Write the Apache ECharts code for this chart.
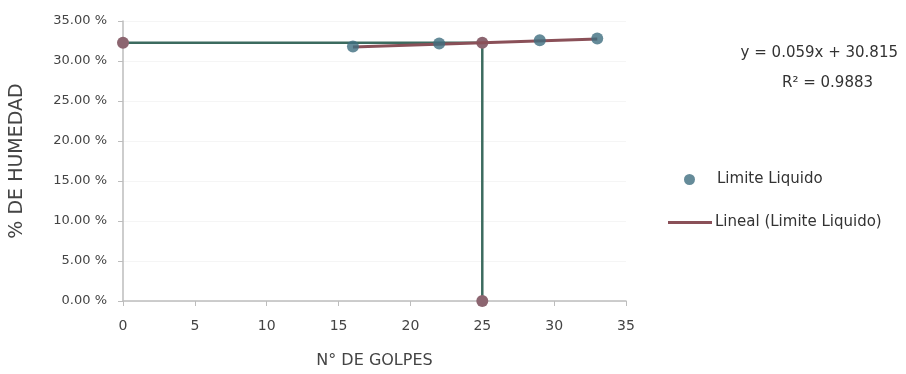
<!DOCTYPE html>
<html><head><meta charset="utf-8">
<script src="https://cdn.jsdelivr.net/npm/echarts@6/dist/echarts.min.js"></script>
<style>html,body{margin:0;padding:0;background:#fff}#c{width:906px;height:374px}</style>
</head><body><div id="c"></div>
<script>
// Data
const golpes = [16, 22, 29, 33];
const humedad = [31.8, 32.2, 32.6, 32.8];
const trendX = [16, 33];
const trendY = [31.76, 32.76];
const limiteLiquido = 32.29;
const golpesRef = 25;
const refX = [0, golpesRef, golpesRef];
const refY = [limiteLiquido, limiteLiquido, 0];
const equationText = 'y = 0.059x + 30.815';
const r2Text = 'R² = 0.9883';

const font = '"DejaVu Sans", "Liberation Sans", sans-serif';
const chart = echarts.init(document.getElementById('c'));
chart.setOption({
  animation: false,
  textStyle: {fontFamily: font},
  grid: {left: 121, right: 280, top: 21, bottom: 73, containLabel: false},
  xAxis: {
    type: 'value', min: 0, max: 35, interval: 5,
    name: 'N° DE GOLPES', nameLocation: 'middle', nameGap: 52,
    nameTextStyle: {color: '#444', fontSize: 16, fontFamily: font},
    axisLine: {show: true, lineStyle: {color: '#bdbdbd', width: 1.5}},
    axisTick: {show: true, length: 5, lineStyle: {color: '#bdbdbd'}},
    axisLabel: {color: '#444', fontSize: 14, margin: 18, fontFamily: font},
    splitLine: {show: false}
  },
  yAxis: {
    type: 'value', min: 0, max: 35, interval: 5,
    name: '% DE HUMEDAD', nameLocation: 'middle', nameGap: 96,
    nameTextStyle: {color: '#444', fontSize: 19, fontFamily: font},
    axisLine: {show: true, lineStyle: {color: '#bdbdbd', width: 1.5}},
    axisTick: {show: true, length: 5, lineStyle: {color: '#bdbdbd'}},
    axisLabel: {color: '#444', fontSize: 13, margin: 16, fontFamily: font,
      formatter: v => v.toFixed(2) + ' %'},
    splitLine: {show: true, lineStyle: {color: '#f5f5f5', width: 1}}
  },
  legend: [
    {
      data: [{name: 'Limite Liquido', icon: 'circle'}],
      left: 679, top: 167, itemWidth: 11, itemHeight: 11, itemGap: 10,
      textStyle: {color: '#333', fontSize: 15, fontFamily: font, padding: [0,0,0,17]}
    },
    {
      data: [{name: 'Lineal (Limite Liquido)', icon: 'rect'}],
      left: 663, top: 210, itemWidth: 44, itemHeight: 3,
      textStyle: {color: '#333', fontSize: 15, fontFamily: font, padding: [0,0,0,-2]}
    }
  ],
  graphic: [
    {type: 'text', right: 8, top: 46, style: {text: equationText, fill: '#333', fontSize: 15, fontFamily: font}},
    {type: 'text', left: 782, top: 76, style: {text: r2Text, fill: '#333', fontSize: 15, fontFamily: font}}
  ],
  series: [
    {
      name: 'ref', type: 'line',
      data: refX.map((x, i) => [x, refY[i]]),
      lineStyle: {color: '#3c6b5f', width: 2.5},
      symbol: 'circle', symbolSize: 12,
      itemStyle: {color: '#8c6570'},
      z: 2, silent: true
    },
    {
      name: 'Lineal (Limite Liquido)', type: 'line',
      data: trendX.map((x, i) => [x, trendY[i]]),
      lineStyle: {color: '#8a5058', width: 3},
      itemStyle: {color: '#8a5058'},
      showSymbol: false, symbol: 'none', z: 3
    },
    {
      name: 'Limite Liquido', type: 'scatter',
      data: golpes.map((x, i) => [x, humedad[i]]),
      symbol: 'circle', symbolSize: 12,
      itemStyle: {color: '#3f6e7f'},
      z: 4
    }
  ]
});
</script></body></html>
